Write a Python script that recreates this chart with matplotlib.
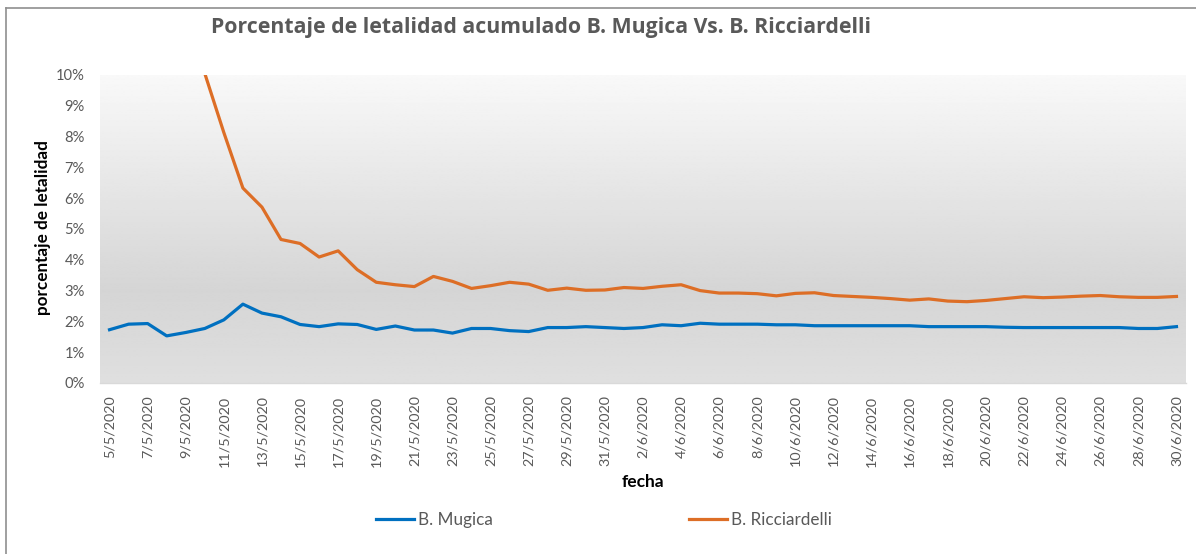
import matplotlib
matplotlib.use("Agg")
import matplotlib.pyplot as plt
import numpy as np
import pandas as pd
from matplotlib.lines import Line2D
from matplotlib.ticker import FuncFormatter, MultipleLocator

# ---------------- data ----------------
dates = pd.date_range("2020-05-05", "2020-06-30", freq="D")
date_labels = [f"{d.day}/{d.month}/{d.year}" for d in dates]

mugica = [1.73, 1.91, 1.93, 1.53, 1.64, 1.77, 2.05, 2.56, 2.27, 2.15,
          1.90, 1.83, 1.92, 1.90, 1.74, 1.85, 1.72, 1.72, 1.62, 1.77,
          1.77, 1.70, 1.67, 1.80, 1.80, 1.83, 1.80, 1.77, 1.80, 1.89,
          1.86, 1.94, 1.91, 1.91, 1.91, 1.89, 1.89, 1.86, 1.86, 1.86,
          1.86, 1.86, 1.86, 1.83, 1.83, 1.83, 1.83, 1.81, 1.80, 1.80,
          1.80, 1.80, 1.80, 1.80, 1.77, 1.77, 1.83]

ricciardelli = [25.0, 20.0, 16.7, 14.3, 12.5, 10.05, 8.13, 6.33, 5.71, 4.66,
                4.53, 4.09, 4.29, 3.68, 3.27, 3.19, 3.13, 3.46, 3.30, 3.07,
                3.16, 3.27, 3.21, 3.01, 3.08, 3.01, 3.02, 3.10, 3.07, 3.14,
                3.19, 3.00, 2.92, 2.92, 2.90, 2.83, 2.91, 2.93, 2.84, 2.81,
                2.78, 2.74, 2.69, 2.73, 2.66, 2.64, 2.68, 2.74, 2.80, 2.77,
                2.79, 2.82, 2.84, 2.80, 2.78, 2.78, 2.81]

series_names = ["B. Mugica", "B. Ricciardelli"]
title = "Porcentaje de letalidad acumulado B. Mugica Vs. B. Ricciardelli"
ylabel = "porcentaje de letalidad"
xlabel = "fecha"

# ---------------- figure ----------------
W, H = 1196, 554
fig = plt.figure(figsize=(W / 100, H / 100), dpi=100)
fig.patch.set_facecolor("white")
FONT = "Lato"
GRAY = "#595959"

# chart border (cut at right / bottom)
fig.add_artist(Line2D([6 / W, 1.0], [1 - 8 / H, 1 - 8 / H], transform=fig.transFigure,
                      color="#8f8f8f", lw=1.2))
fig.add_artist(Line2D([6 / W, 6 / W], [0, 1 - 8 / H], transform=fig.transFigure,
                      color="#8f8f8f", lw=1.2))

left, right, top, bottom = 100, 1186, 75, 383
ax = fig.add_axes([left / W, 1 - bottom / H, (right - left) / W, (bottom - top) / H])

# gradient background
stops_pos = [0.0, 0.70, 1.0]
stops_val = [0.975, 0.835, 0.875]
grad_y = np.linspace(0, 1, 256)
vals = np.interp(grad_y, stops_pos, stops_val)
img = np.repeat(vals[:, None], 2, axis=1)
ax.imshow(img, extent=[0, 1, 0, 1], transform=ax.transAxes, cmap="gray",
          vmin=0, vmax=1, aspect="auto", zorder=0, origin="upper",
          interpolation="bilinear")

x = np.arange(len(date_labels))
ax.plot(x, mugica, color="#0070C0", lw=2.3, zorder=3, solid_joinstyle="round")
ax.plot(x, ricciardelli, color="#DD6E26", lw=2.3, zorder=3, solid_joinstyle="round")

ax.set_xlim(-0.5, len(x) - 0.5)
ax.set_ylim(0, 10)
ax.yaxis.set_major_locator(MultipleLocator(1))
ax.yaxis.set_major_formatter(FuncFormatter(lambda v, p: f"{int(round(v))}%"))
ax.set_xticks(x[::2])
ax.set_xticklabels(date_labels[::2], rotation=90, fontsize=10.4, color=GRAY, family=FONT)
for lab in ax.get_yticklabels():
    lab.set_fontsize(10.6)
    lab.set_color(GRAY)
    lab.set_family(FONT)
ax.tick_params(axis="both", length=0)
ax.tick_params(axis="y", pad=11)
ax.tick_params(axis="x", pad=9)

for s in ["top", "right", "left"]:
    ax.spines[s].set_visible(False)
ax.spines["bottom"].set_color("#d9d9d9")
ax.spines["bottom"].set_linewidth(1.0)

fig.text(541 / W, 1 - 28 / H, title, ha="center", va="center", fontsize=15.3,
         fontweight="bold", color=GRAY, family="Open Sans")
fig.text(43 / W, 1 - 228 / H, ylabel, ha="center", va="center", rotation=90,
         fontsize=12.3, fontweight="bold", color="black", family=FONT)
fig.text(643 / W, 1 - 482 / H, xlabel, ha="center", va="center",
         fontsize=12.5, fontweight="bold", color="black", family=FONT)

handles = [Line2D([], [], color="#0070C0", lw=2.3), Line2D([], [], color="#DD6E26", lw=2.3)]
leg = fig.legend(handles, series_names, loc="center", bbox_to_anchor=(604 / W, 1 - 520 / H),
                 ncol=2, frameon=False, handlelength=2.2, handletextpad=0.25,
                 columnspacing=11.5, prop={"family": FONT, "size": 12.3})
for t in leg.get_texts():
    t.set_color(GRAY)

fig.savefig("out.png", dpi=100)
